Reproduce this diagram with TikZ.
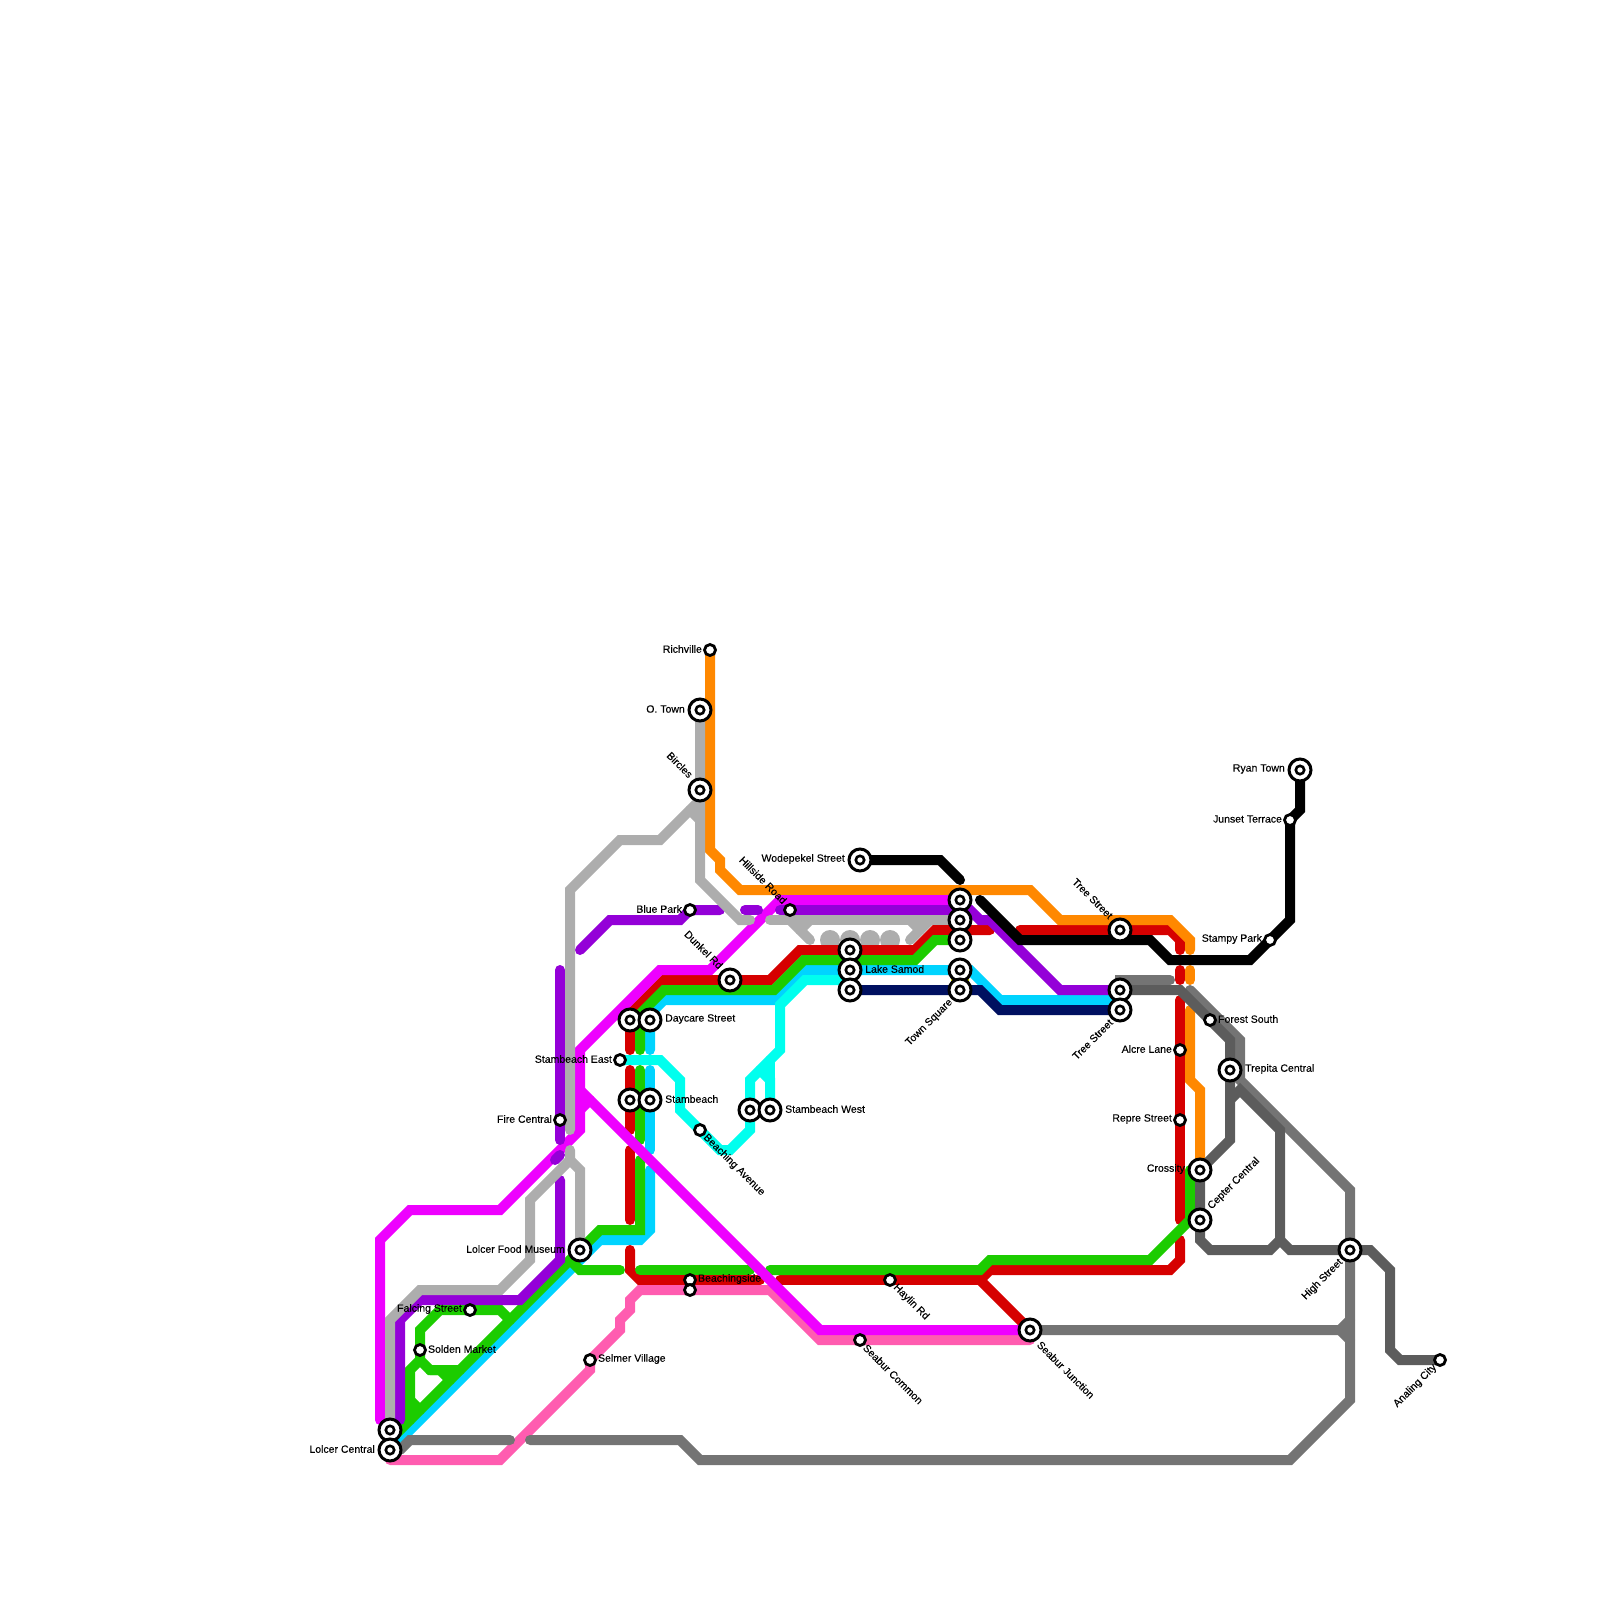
\documentclass[tikz,border=0pt]{standalone}
\usepackage{fontspec}
\setmainfont[FakeBold=0.2]{Liberation Sans}
\usetikzlibrary{backgrounds}
\definecolor{cred}{HTML}{D60000}
\definecolor{cgreen}{HTML}{1CCC00}
\definecolor{cblue}{HTML}{00D4FF}
\definecolor{ccyan}{HTML}{00FFEE}
\definecolor{cnavy}{HTML}{001060}
\definecolor{corange}{HTML}{FF8800}
\definecolor{cpink}{HTML}{FF5CB0}
\definecolor{cmag}{HTML}{EE00FF}
\definecolor{cpurple}{HTML}{9400D8}
\definecolor{csilver}{HTML}{ADADAD}
\definecolor{cgrey}{HTML}{747474}
\definecolor{cdark}{HTML}{5C5C5C}
\definecolor{cyellow}{HTML}{D8E000}

\begin{document}
\begin{tikzpicture}[
    x=1pt, y=-1pt,
    ln/.style={line width=10, line cap=round, line join=miter},
    ic/.style={circle, draw=black, fill=white, line width=3, minimum size=22, inner sep=0,
               path picture={\draw[line width=2.6] (path picture bounding box.center) circle (4.2);}},
    st/.style={circle, draw=black, fill=white, line width=2.8, minimum size=11, inner sep=0},
    lbl/.style={font=\fontsize{10.5}{12}\selectfont, inner sep=0, text=black, yshift=1pt},
    lbS/.style={lbl, rotate=-45, anchor=west},
    lbN/.style={lbl, rotate=-45, anchor=east},
    lbU/.style={lbl, rotate=45, anchor=west, yshift=-1pt},
    lbD/.style={lbl, rotate=45, anchor=east}
  ]
  \useasboundingbox (0,0) rectangle (1600,1600);

  % interchanges
  \node[ic] (lolcerA) at (390,1430) {};
  \node[ic, label={[lbl, label distance=2.5]left:Lolcer Central}] (lolcerB) at (390,1450) {};
  \node[ic, label={[lbl, label distance=2.5]left:Lolcer Food Museum}] (museum) at (580,1250) {};
  \node[ic] (daycareA) at (630,1020) {};
  \node[ic, label={[lbl, label distance=2.5]right:Daycare Street}] (daycareB) at (650,1020) {};
  \node[ic] (stamA) at (630,1100) {};
  \node[ic, label={[lbl, label distance=2.5]right:Stambeach}] (stamB) at (650,1100) {};
  \node[ic] (stamwA) at (750,1110) {};
  \node[ic, label={[lbl, label distance=2.5]right:Stambeach West}] (stamwB) at (770,1110) {};
  \node[ic, label={[lbN, label distance=3]135:Dunkel Rd}] (dunkel) at (730,980) {};
  \node[ic, label={[lbl, label distance=2.5]left:O. Town}] (otown) at (700,710) {};
  \node[ic, label={[lbN, label distance=4]135:Bircles}] (bircles) at (700,790) {};
  \node[ic, label={[lbl, label distance=2.5]left:Wodepekel Street}] (wode) at (860,860) {};
  \node[ic] (samodA) at (850,950) {};
  \node[ic, label={[lbl, label distance=2.5]right:Lake Samod}] (samodB) at (850,970) {};
  \node[ic] (samodC) at (850,990) {};
  \node[ic] (townA) at (960,900) {};
  \node[ic] (townB) at (960,920) {};
  \node[ic] (townC) at (960,940) {};
  \node[ic] (townD) at (960,970) {};
  \node[ic, label={[lbD, label distance=3]225:Town Square}] (townE) at (960,990) {};
  \node[ic, label={[lbN, label distance=3]135:Tree Street}] (treeA) at (1120,930) {};
  \node[ic] (treeB) at (1120,990) {};
  \node[ic, label={[lbD, label distance=3]225:Tree Street}] (treeC) at (1120,1010) {};
  \node[ic, label={[lbS, label distance=5]-45:Seabur Junction}] (seabur) at (1030,1330) {};
  \node[ic, label={[lbl, label distance=2.5]right:Trepita Central}] (trepita) at (1230,1070) {};
  \node[ic, label={[lbl, label distance=2.5]left:Crossity}] (crossity) at (1200,1170) {};
  \node[ic, label={[lbU, label distance=3]45:Cepter Central}] (cepter) at (1200,1220) {};
  \node[ic, label={[lbD, label distance=3]225:High Street}] (high) at (1350,1250) {};
  \node[ic, label={[lbl, label distance=2.5]left:Ryan Town}] (ryan) at (1300,770) {};

  % plain stops
  \node[st, label={[lbl, label distance=1]left:Richville}] (rich) at (710,650) {};
  \node[st, label={[lbl, label distance=1]left:Blue Park}] (blue) at (690,910) {};
  \node[st, label={[lbN, label distance=2]135:Hillside Road}] (hill) at (790,910) {};
  \node[st, label={[lbl, label distance=1]left:Falcing Street}] (falcing) at (470,1310) {};
  \node[st, label={[lbl, label distance=1]right:Solden Market}] (solden) at (420,1350) {};
  \node[st, label={[lbl, label distance=1]left:Fire Central}] (fire) at (560,1120) {};
  \node[st, label={[lbl, label distance=1]left:Stambeach East}] (stame) at (620,1060) {};
  \node[st, label={[lbS, label distance=2]-45:Beaching Avenue}] (beach) at (700,1130) {};
  \node[st, label={[lbl, label distance=1]right:Beachingside}] (bsideA) at (690,1280) {};
  \node[st] (bsideB) at (690,1290) {};
  \node[st, label={[lbl, label distance=1]right:Selmer Village}] (selmer) at (590,1360) {};
  \node[st, label={[lbS, label distance=2]-45:Haylin Rd}] (haylin) at (890,1280) {};
  \node[st, label={[lbS, label distance=2]-45:Seabur Common}] (common) at (860,1340) {};
  \node[st, label={[lbl, label distance=1]left:Junset Terrace}] (junset) at (1290,820) {};
  \node[st, label={[lbl, label distance=1]left:Stampy Park}] (stampy) at (1270,940) {};
  \node[st, label={[lbl, label distance=1]right:Forest South}] (forest) at (1210,1020) {};
  \node[st, label={[lbl, label distance=1]left:Alcre Lane}] (alcre) at (1180,1050) {};
  \node[st, label={[lbl, label distance=1]left:Repre Street}] (repre) at (1180,1120) {};
  \node[st, label={[lbD, label distance=2]225:Analing City}] (analing) at (1440,1360) {};

  \begin{scope}[on background layer]
    \foreach \x in {830,850,870,890}
      \fill[csilver] (\x,940) circle (10);

    % blue, cyan, navy
    \draw[ln,cblue] (lolcerB.center) -- (600,1240) -- (640,1240) -- (650,1230) -- (650,1170);
    \draw[ln,cblue] (650,1150) -- (650,1070);
    \draw[ln,cblue] (650,1050) -- (daycareB.center) -- (650,1014) -- (664,1000) -- (775,1000) -- (805,970) -- (samodB.center) -- (townD.center) -- (970,970) -- (1000,1000) -- (1120,1000);
    \draw[ln,ccyan] (stame.center) -- (660,1060) -- (680,1080) -- (680,1110) -- (720,1150) -- (730,1150) -- (750,1130) -- (stamwA.center) -- (750,1080) -- (780,1050) -- (780,1005) -- (805,980) -- (850,980);
    \draw[ln,ccyan] (760,1070) -- (770,1080) -- (stamwB.center);
    \draw[ln,ccyan] (770,1060) -- (770,1080);
    \draw[ln,cnavy] (samodC.center) -- (980,990) -- (1000,1010) -- (treeC.center);
    \draw[line width=18,cyellow] (townD.center) -- (townE.center);

    % red
    \draw[ln,cred] (630,1050) -- (daycareA.center) -- (630,1014) -- (664,980) -- (dunkel.center) -- (770,980) -- (800,950) -- (samodA.center) -- (915,950) -- (935,930) -- (990,930);
    \draw[ln,cred] (1020,930) -- (treeA.center) -- (1170,930) -- (1180,940) -- (1180,950);
    \draw[ln,cred] (1180,970) -- (1180,980);
    \draw[ln,cred] (1180,1000) -- (alcre.center) -- (repre.center) -- (1180,1220);
    \draw[ln,cred] (1180,1240) -- (1180,1260) -- (1170,1270) -- (990,1270) -- (980,1280) -- (seabur.center);
    \draw[ln,cred] (630,1070) -- (stamA.center) -- (630,1130);
    \draw[ln,cred] (630,1150) -- (630,1220);
    \draw[ln,cred] (630,1250) -- (630,1270) -- (640,1280) -- (760,1280);
    \draw[ln,cred] (780,1280) -- (haylin.center) -- (980,1280);

    % green
    \draw[ln,cgreen] (640,1050) -- (640,1014) -- (664,990) -- (774,990) -- (804,960) -- (915,960) -- (935,940) -- (townC.center);
    \draw[ln,cgreen] (640,1070) -- (640,1140);
    \draw[ln,cgreen] (640,1160) -- (640,1230) -- (600,1230) -- (390,1440);
    \draw[ln,cgreen] (570,1260) -- (580,1270) -- (620,1270);
    \draw[ln,cgreen] (640,1270) -- (750,1270);
    \draw[ln,cgreen] (770,1270) -- (980,1270) -- (990,1260) -- (1150,1260) -- (1190,1220) -- (1190,1170);
    \draw[ln,cgreen] (510,1320) -- (500,1310) -- (falcing.center) -- (440,1310) -- (420,1330) -- (solden.center) -- (420,1360) -- (430,1370) -- (460,1370);
    \draw[ln,cgreen] (430,1370) -- (440,1370) -- (450,1380);
    \draw[ln,cgreen] (420,1360) -- (410,1370) -- (410,1420);
    \draw[ln,cgreen] (410,1400) -- (420,1410);

    % orange, pink
    \draw[ln,corange] (rich.center) -- (710,850) -- (720,860) -- (720,870) -- (740,890) -- (1030,890) -- (1060,920) -- (1170,920) -- (1190,940) -- (1190,950);
    \draw[ln,corange] (1190,970) -- (1190,980);
    \draw[ln,corange] (1190,1010) -- (1190,1080) -- (1200,1090) -- (crossity.center);
    \draw[ln,cpink] (390,1460) -- (500,1460) -- (590,1370) -- (selmer.center) -- (620,1330) -- (620,1320) -- (630,1310) -- (630,1300) -- (640,1290) -- (770,1290) -- (820,1340) -- (1030,1340);

    % greys
    \draw[ln,cgrey] (400,1450) -- (410,1440) -- (510,1440);
    \draw[ln,cgrey] (530,1440) -- (680,1440) -- (700,1460) -- (1290,1460) -- (1350,1400) -- (1350,1190) -- (1240,1080) -- (1240,1040) -- (1190,990);
    \draw[ln,cgrey] (treeB.center) -- (1120,980) -- (1170,980);
    \draw[ln,cgrey] (seabur.center) -- (1340,1330) -- (1350,1320);
    \draw[ln,cgrey] (1340,1330) -- (1350,1340);
    \draw[ln,cdark] (treeB.center) -- (1180,990) -- (1230,1040) -- (trepita.center) -- (1230,1140) -- (crossity.center) -- (cepter.center) -- (1200,1240) -- (1210,1250) -- (1270,1250) -- (1280,1240) -- (1290,1250) -- (high.center) -- (1370,1250) -- (1390,1270) -- (1390,1350) -- (1400,1360) -- (analing.center);
    \draw[ln,cdark] (1230,1100) -- (1240,1090) -- (1280,1130) -- (1280,1240);

    % magenta
    \draw[ln,cmag] (380,1420) -- (380,1240) -- (410,1210) -- (500,1210) -- (580,1130) -- (580,1050) -- (660,970) -- (710,970) -- (780,900) -- (townA.center);
    \draw[ln,cmag] (580,1090) -- (590,1100) -- (820,1330) -- (seabur.center);
    \draw[ln,cmag] (580,1110) -- (590,1100);

    % purple
    \draw[ln,cpurple] (560,970) -- (fire.center) -- (560,1140);
    \draw[ln,cpurple] (560,1155) -- (555,1160);
    \draw[ln,cpurple] (560,1180) -- (560,1260) -- (520,1300) -- (420,1300) -- (400,1320) -- (400,1420);
    \draw[ln,cpurple] (580,950) -- (610,920) -- (680,920) -- (blue.center) -- (720,910);
    \draw[ln,cpurple] (745,910) -- (758,910);
    \draw[ln,cpurple] (780,910) -- (970,910) -- (980,920) -- (990,920) -- (1060,990) -- (treeB.center);

    % silver
    \draw[ln,csilver] (otown.center) -- (700,880) -- (740,920) -- (750,920);
    \draw[ln,csilver] (770,920) -- (townB.center);
    \draw[ln,csilver] (790,920) -- (810,940);
    \draw[ln,csilver] (800,930) -- (810,920);
    \draw[ln,csilver] (910,940) -- (930,920);
    \draw[ln,csilver] (910,920) -- (920,930);
    \draw[ln,csilver] (bircles.center) -- (700,800) -- (660,840) -- (620,840) -- (570,890) -- (570,1130);
    \draw[ln,csilver] (700,820) -- (690,810);
    \draw[ln,csilver] (570,1150) -- (570,1160) -- (530,1200) -- (530,1260) -- (500,1290) -- (420,1290) -- (390,1320) -- (lolcerA.center);
    \draw[ln,csilver] (570,1160) -- (580,1170) -- (museum.center);

    % black
    \draw[ln,black] (wode.center) -- (940,860) -- (960,880);
    \draw[ln,black] (980,900) -- (1020,940) -- (1150,940) -- (1170,960) -- (1250,960) -- (1290,920) -- (junset.center) -- (1300,810) -- (ryan.center);
  \end{scope}
\end{tikzpicture}
\end{document}
